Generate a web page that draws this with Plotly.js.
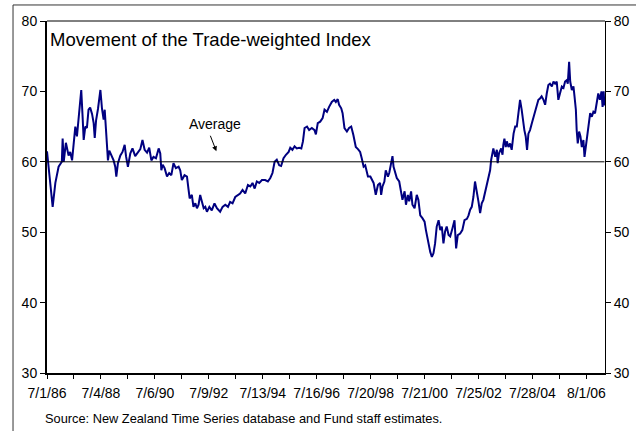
<!DOCTYPE html>
<html>
<head>
<meta charset="utf-8">
<script src="https://cdn.plot.ly/plotly-3.0.1.min.js"></script>
<style>html,body{margin:0;padding:0;background:#fff;}#chart{width:636px;height:431px;}</style>
</head>
<body>
<div id="chart"></div>
<script>
// Trade-weighted index readings (decimal year, index value)
var years = [
1986.50,1986.62,1986.71,1986.81,1986.93,1987.05,1987.08,1987.12,1987.20,1987.30,
1987.36,1987.43,1987.49,1987.55,1987.61,1987.67,1987.73,1987.77,1987.82,1987.86,
1987.92,1987.98,1988.04,1988.10,1988.17,1988.23,1988.27,1988.32,1988.39,1988.44,
1988.48,1988.54,1988.60,1988.64,1988.69,1988.72,1988.76,1988.81,1988.88,1988.97,
1989.03,1989.07,1989.13,1989.22,1989.30,1989.38,1989.43,1989.50,1989.59,1989.67,
1989.77,1989.87,1989.96,1990.04,1990.12,1990.21,1990.29,1990.37,1990.45,1990.54,
1990.64,1990.70,
1990.74,1990.79,1990.86,1990.95,1991.03,1991.11,1991.19,1991.28,1991.38,1991.44,
1991.50,1991.60,1991.69,1991.75,1991.79,1991.87,1991.93,1992.00,1992.06,1992.12,
1992.18,1992.24,1992.31,1992.37,1992.43,1992.52,1992.61,1992.71,1992.80,1992.92,
1993.01,1993.11,1993.21,1993.29,1993.38,1993.48,1993.58,1993.66,1993.75,1993.85,
1993.95,1994.04,1994.12,1994.20,1994.28,1994.37,1994.47,1994.59,1994.69,1994.78,
1994.86,1994.94,1995.02,1995.11,1995.18,1995.27,1995.36,1995.46,1995.52,1995.60,
1995.68,1995.76,1995.85,1995.93,1995.99,1996.05,1996.14,1996.22,1996.32,1996.42,
1996.47,1996.54,1996.63,1996.72,1996.79,1996.88,1996.96,1997.06,1997.15,1997.21,
1997.28,1997.33,1997.41,1997.46,1997.53,1997.62,1997.70,1997.78,1997.86,1997.95,
1998.03,1998.11,1998.17,1998.24,1998.30,1998.40,1998.49,1998.55,1998.61,1998.69,
1998.77,1998.85,
1998.89,1998.94,1999.01,1999.06,1999.14,1999.19,1999.26,1999.31,1999.35,1999.41,
1999.47,1999.56,1999.63,1999.68,1999.76,1999.81,1999.88,1999.93,2000.00,2000.05,
2000.13,2000.21,2000.27,2000.34,2000.42,2000.50,2000.55,2000.62,2000.71,2000.77,
2000.83,2000.89,2000.95,2001.02,2001.08,2001.14,2001.20,2001.26,2001.32,2001.39,
2001.45,2001.53,2001.61,2001.67,2001.73,2001.82,2001.90,2001.98,2002.07,2002.13,
2002.19,2002.25,2002.31,2002.37,2002.44,2002.50,2002.56,2002.62,2002.68,2002.75,
2002.81,2002.87,2002.93,
2002.97,2003.02,2003.05,2003.12,2003.18,2003.21,2003.26,2003.34,2003.39,2003.42,
2003.46,2003.51,2003.55,2003.61,2003.67,2003.73,2003.80,2003.86,2003.92,2003.98,
2004.04,2004.10,2004.14,2004.20,2004.25,2004.30,2004.35,2004.41,2004.48,2004.54,
2004.60,2004.66,2004.72,2004.78,2004.84,2004.91,2004.97,2005.03,2005.09,2005.15,
2005.22,2005.28,2005.34,2005.40,2005.46,2005.52,2005.59,2005.65,2005.71,2005.77,
2005.81,2005.86,2005.90,2005.96,2006.02,2006.06,2006.11,2006.14,2006.18,2006.23,
2006.28,2006.33,2006.39,2006.43,2006.48,2006.53,2006.57,2006.64,2006.70,2006.76,
2006.82,2006.88,2006.94,2007.00,2007.06,2007.10,2007.14,2007.17
];
var twi = [
61.5,56.9,53.6,57.0,59.3,60.0,63.3,60.0,62.7,60.9,
61.4,60.2,63.1,65.0,63.6,65.9,67.8,70.2,66.4,63.1,
65.0,64.8,67.4,67.7,66.8,65.5,63.4,65.9,67.5,69.3,
70.2,67.5,66.0,67.4,64.5,61.7,60.2,61.6,60.9,60.2,
59.3,57.9,59.8,60.9,61.4,62.4,60.8,59.3,61.2,61.9,
60.8,61.4,61.8,63.1,61.7,61.3,62.0,60.2,60.7,60.5,
61.9,61.2,
58.8,59.6,59.1,57.9,58.4,58.1,59.8,59.1,59.3,58.8,
57.4,58.1,57.9,56.0,54.8,55.3,53.6,54.1,53.4,53.9,
55.3,54.4,53.4,53.6,52.9,53.6,53.1,54.1,53.4,52.9,
53.6,53.9,53.6,54.3,54.1,55.0,55.3,55.5,56.0,55.5,
56.7,56.5,57.0,56.2,57.2,57.0,57.4,57.4,57.2,57.7,
58.4,60.0,60.3,59.5,59.4,60.5,61.0,61.4,62.0,61.7,
62.2,61.9,62.0,61.9,62.9,64.8,65.0,64.5,64.8,64.5,
63.9,65.5,65.7,66.2,67.4,67.1,67.8,68.5,68.8,68.5,
68.9,68.1,67.6,66.9,64.8,64.3,64.8,65.0,63.8,62.1,
61.8,61.4,60.5,59.3,59.5,57.9,57.9,57.4,57.0,55.3,
56.7,57.0,
55.3,56.5,57.2,58.8,57.9,58.4,59.8,60.8,59.3,58.4,
57.7,57.2,55.5,54.6,55.8,53.9,55.3,54.4,55.8,53.9,
53.4,55.3,54.6,52.4,52.0,51.5,50.3,48.9,47.2,46.5,
47.0,48.4,50.8,51.7,50.3,50.8,48.4,50.1,50.8,49.6,
49.4,50.5,51.7,47.7,49.6,49.8,50.3,51.7,51.9,52.4,
53.2,53.6,55.0,57.2,55.8,54.3,52.7,54.1,54.6,55.8,
56.5,57.7,58.8,
60.3,61.2,61.9,60.7,61.7,59.8,61.2,61.9,61.0,62.4,
63.3,62.1,62.9,62.1,62.6,61.7,64.0,65.0,65.0,66.9,
68.8,67.4,65.9,64.5,63.6,61.7,64.0,64.5,65.5,66.4,
67.1,68.3,68.8,69.0,69.3,68.8,68.1,69.7,70.9,71.1,
70.7,71.4,71.1,71.4,68.8,69.7,70.7,70.5,71.4,71.6,
71.1,74.2,71.4,70.2,70.7,69.3,67.4,64.5,62.6,64.3,
63.6,62.1,63.1,60.7,62.1,63.6,64.5,66.9,66.4,67.1,
66.9,68.5,69.7,68.8,70.0,67.8,70.0,68.0
];
var averageValue = 60;
var tickYears = [1986.5,1987.5,1988.5,1989.5,1990.5,1991.5,1992.5,1993.5,1994.5,1995.5,
  1996.5,1997.5,1998.5,1999.5,2000.5,2001.5,2002.5,2003.5,2004.5,2005.5,2006.5];
var tickLabels = ["7/1/86","","7/4/88","","7/6/90","","7/9/92","","7/13/94","",
  "7/16/96","","7/20/98","","7/21/00","","7/25/02","","7/28/04","","8/1/06"];
var yTicks = [30,40,50,60,70,80];

var FONT = "Liberation Sans, Arial, sans-serif";
var traces = [
  {x: years, y: twi, type: "scatter", mode: "lines",
   line: {color: "#000080", width: 2}, hoverinfo: "skip"},
  {x: [years[0], years[years.length-1]], y: [averageValue, averageValue],
   type: "scatter", mode: "lines", yaxis: "y2",
   line: {color: "#000000", width: 1}, hoverinfo: "skip"}
];
var yCommon = {
  range: [30, 80], tickmode: "array", tickvals: yTicks, ticktext: yTicks.map(String),
  ticks: "outside", ticklen: 5, tickwidth: 1, tickcolor: "#000",
  showline: true, linecolor: "#000", showgrid: false, zeroline: false,
  tickfont: {family: FONT, size: 14, color: "#000"}, fixedrange: true
};
var layout = {
  width: 636, height: 431,
  margin: {l: 47, r: 31, t: 21, b: 58, pad: 0},
  paper_bgcolor: "#fff", plot_bgcolor: "#fff",
  showlegend: false,
  font: {family: FONT, color: "#000"},
  title: {text: "Movement of the Trade-weighted Index",
    font: {family: FONT, size: 18.5, color: "#000"},
    xref: "paper", x: 0.0054, xanchor: "left",
    yref: "container", y: 0.9084, yanchor: "middle"},
  xaxis: {
    range: [1986.5, 2007.19], tickmode: "array", tickvals: tickYears, ticktext: tickLabels,
    ticks: "outside", ticklen: 4, tickwidth: 1, tickcolor: "#000",
    showline: true, linewidth: 2, linecolor: "#000",
    showgrid: false, zeroline: false, ticklabelstandoff: 2,
    tickfont: {family: FONT, size: 14, color: "#000"}, fixedrange: true
  },
  yaxis: Object.assign({}, yCommon, {linewidth: 2}),
  yaxis2: Object.assign({}, yCommon, {overlaying: "y", side: "right", linewidth: 1}),
  shapes: [
    {type: "line", xref: "paper", yref: "paper", x0: 0, x1: 1, y0: 1, y1: 1,
     line: {color: "#000", width: 1}},
    {type: "rect", xref: "paper", yref: "paper", x0: -0.0609, x1: 1.2, y0: -0.3, y1: 1.0455,
     line: {color: "#333", width: 1}}
  ],
  annotations: [
    {text: "Average", x: 1992.74, y: 65.4, xref: "x", yref: "y",
     showarrow: false, font: {family: FONT, size: 14, color: "#000"}},
    {text: " ", x: 1992.78, y: 61.5, xref: "x", yref: "y",
     showarrow: true, arrowhead: 2, arrowsize: 1, arrowwidth: 1, arrowcolor: "#000",
     ax: -7, ay: -18, font: {family: FONT, size: 2, color: "#000"}},
    {text: "Source: New Zealand Time Series database and Fund staff estimates.",
     xref: "paper", yref: "paper", x: -0.0066, y: -0.1287, xanchor: "left", yanchor: "middle",
     showarrow: false, font: {family: FONT, size: 12.8, color: "#000"}}
  ]
};
Plotly.newPlot("chart", traces, layout, {displayModeBar: false, staticPlot: true});
</script>
</body>
</html>
